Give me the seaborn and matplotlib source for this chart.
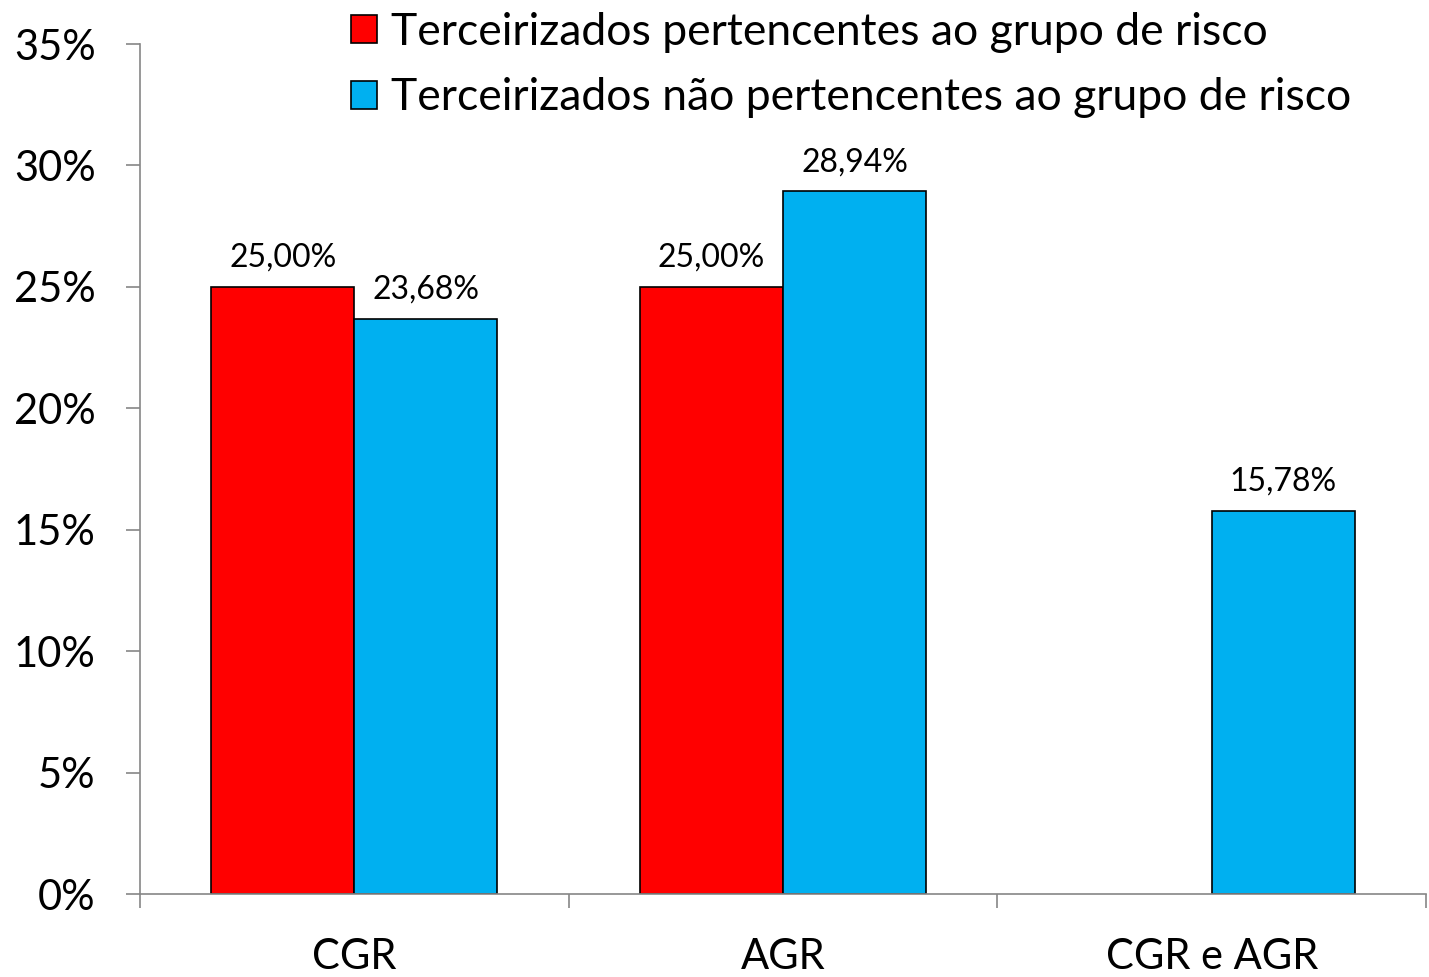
import matplotlib
matplotlib.use('Agg')
import matplotlib.pyplot as plt
import pandas as pd
import numpy as np
import seaborn as sns

# Data (percent)
categories = ['CGR', 'AGR', 'CGR e AGR']
series_names = ['Terceirizados pertencentes ao grupo de risco',
                'Terceirizados não pertencentes ao grupo de risco']
risco = [25.00, 25.00, np.nan]
nao_risco = [23.68, 28.94, 15.78]
colors = ['#FF0000', '#00B0F0']

data = pd.DataFrame({
    'categoria': categories * 2,
    'grupo': [series_names[0]] * 3 + [series_names[1]] * 3,
    'valor': risco + nao_risco,
})

sns.set_style('white')
plt.rcParams['font.family'] = ['Lato', 'DejaVu Sans']
plt.rcParams['text.color'] = 'black'
plt.rcParams['xtick.labelcolor'] = 'black'
plt.rcParams['ytick.labelcolor'] = 'black'

fig = plt.figure(figsize=(14.29, 9.77), dpi=100)
ax = fig.add_axes([140 / 1429, 1 - 894 / 977, 1286 / 1429, 850 / 977])

sns.barplot(data=data, x='categoria', y='valor', hue='grupo', order=categories,
            hue_order=series_names, palette=colors, width=0.667,
            edgecolor='black', linewidth=1.2, saturation=1, ax=ax)

# value labels with comma decimals
for cont in ax.containers:
    for bar in cont:
        if bar is None:
            continue
        h = bar.get_height()
        if np.isnan(h):
            continue
        ax.annotate(f'{h:.2f}'.replace('.', ',') + '%',
                    (bar.get_x() + bar.get_width() / 2, h),
                    xytext=(0, 10), textcoords='offset points',
                    ha='center', va='bottom', fontsize=23, color='black')

ax.set_ylim(0, 35)
ax.set_xlim(-0.5, 2.5)
ax.set_yticks(range(0, 36, 5))
ax.set_yticklabels([f'{t}%' for t in range(0, 36, 5)], fontsize=30)
ax.tick_params(axis='y', length=10, width=1.2, color='#868686', pad=22, left=True)

# x: ticks at category boundaries, labels at centres
ax.set_xticks([-0.5, 0.5, 1.5, 2.5])
ax.set_xticklabels([])
ax.tick_params(axis='x', which='major', length=10, width=1.2, color='#868686',
               bottom=True, direction='out')
ax.set_xticks([0, 1, 2], minor=True)
ax.set_xticklabels(categories, minor=True, fontsize=30)
ax.tick_params(axis='x', which='minor', length=0, pad=32)

ax.set_xlabel('')
ax.set_ylabel('')
sns.despine(ax=ax)
for s in ['left', 'bottom']:
    ax.spines[s].set_color('#868686')
    ax.spines[s].set_linewidth(1.2)

handles, labels = ax.get_legend_handles_labels()
ax.get_legend().remove()
fig.legend(handles, labels, loc='upper left', bbox_to_anchor=(333 / 1429, 1.006),
           frameon=False, fontsize=32, handlelength=0.6, handleheight=0.6,
           handletextpad=0.3, labelspacing=0.55, borderaxespad=0)

fig.savefig('out.png', dpi=100)
